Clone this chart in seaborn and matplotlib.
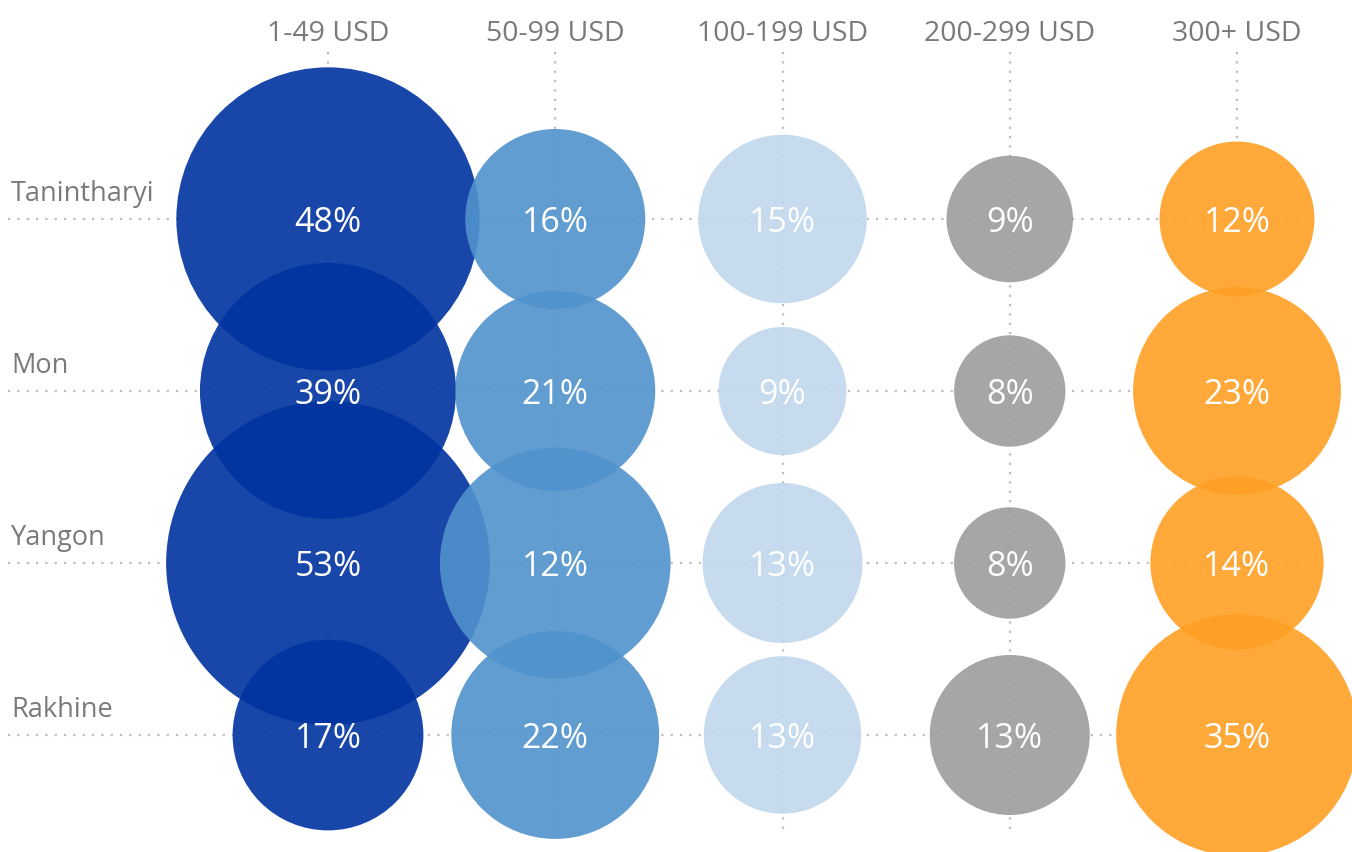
import matplotlib
matplotlib.use("Agg")
import matplotlib.pyplot as plt
import matplotlib.transforms as mtransforms
import seaborn as sns
import pandas as pd

# price bands (columns) and regions (rows)
price_bands = ["1-49 USD", "50-99 USD", "100-199 USD", "200-299 USD", "300+ USD"]
regions = ["Tanintharyi", "Mon", "Yangon", "Rakhine"]

# share shown in each bubble, per price band (rows in region order)
share_1_49 = [48, 39, 53, 17]
share_50_99 = [16, 21, 12, 22]
share_100_199 = [15, 9, 13, 13]
share_200_299 = [9, 8, 8, 13]
share_300 = [12, 23, 14, 35]

# bubble weight
weight_1_49 = [230, 164, 262, 91]
weight_50_99 = [81, 100, 133, 108]
weight_100_199 = [71, 41, 64, 62]
weight_200_299 = [40, 31, 31, 64]
weight_300 = [60, 108, 75, 146]

band_colors = ["#0033A0", "#5092CC", "#C0D7ED", "#9B9C9E", "#FFA024"]

shares = [share_1_49, share_50_99, share_100_199, share_200_299, share_300]
weights = [weight_1_49, weight_50_99, weight_100_199, weight_200_299, weight_300]

rows = []
for band, sh, wt in zip(price_bands, shares, weights):
    for reg, s, w in zip(regions, sh, wt):
        rows.append({"band": band, "region": reg, "share": s, "weight": w})
df = pd.DataFrame(rows)

sns.set_theme(style="white")
plt.rcParams["font.family"] = ["Open Sans", "DejaVu Sans"]

fig = plt.figure(figsize=(13.52, 8.52), dpi=100)
ax = fig.add_axes([0, 0, 1, 1])

# px -> data layout
x0, dx = 328, 227.25
y0, dy = 219, 172
ax.set_xlim((0 - x0) / dx, (1352 - x0) / dx)
ax.set_ylim((852 - y0) / dy, (0 - y0) / dy)

# dotted guide lines
grid_kw = dict(color="#BDBDBD", linewidth=1.6, linestyles=(0, (1, 3.2)), zorder=0)
ax.hlines(range(len(regions)), (8 - x0) / dx, (1308 - x0) / dx, **grid_kw)
ax.vlines(range(len(price_bands)), (52 - y0) / dy, (833 - y0) / dy, **grid_kw)

# weight = (r/10)^2 with r the radius in px; marker area in pt^2
vmax = df["weight"].max()
pt2_per_weight = (2 * 0.72 * 10) ** 2
sns.scatterplot(data=df, x="band", y="region", hue="band", palette=band_colors,
                size="weight", sizes=(0, vmax * pt2_per_weight),
                size_norm=(0, vmax), alpha=0.9, linewidth=0, legend=False,
                zorder=2, ax=ax)

for i, band in enumerate(price_bands):
    for j, reg in enumerate(regions):
        ax.text(i, j, f"{shares[i][j]}%", ha="center", va="center_baseline",
                fontsize=24.5, color="white", zorder=3)

top = mtransforms.blended_transform_factory(ax.transData, ax.transAxes)
for i, band in enumerate(price_bands):
    ax.text(i, 1 - 41 / 852, band, transform=top, ha="center", va="baseline",
            fontsize=20.5, color="#7A7A7A")

left = mtransforms.blended_transform_factory(ax.transAxes, ax.transData)
for j, reg in enumerate(regions):
    ax.annotate(reg, xy=(11 / 1352, j), xycoords=left, xytext=(0, 13),
                textcoords="offset points", ha="left", va="baseline",
                fontsize=19.5, color="#7A7A7A")

ax.set_xlabel("")
ax.set_ylabel("")
ax.set_xticks([])
ax.set_yticks([])
for s in ax.spines.values():
    s.set_visible(False)

fig.savefig("out.png", dpi=100)
